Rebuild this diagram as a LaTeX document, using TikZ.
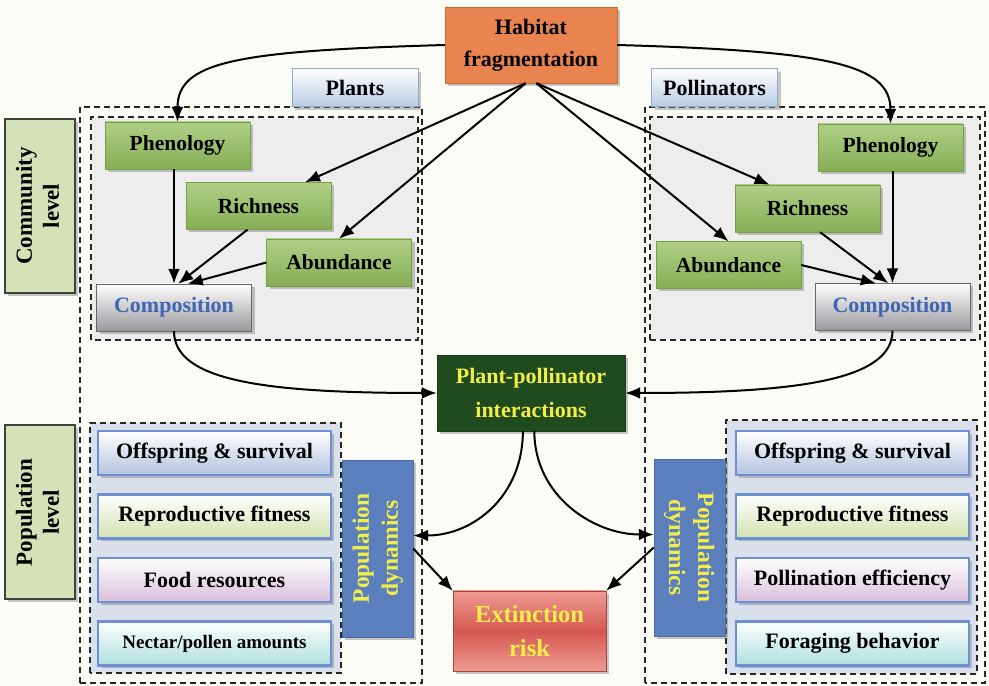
\documentclass[tikz,border=0pt]{standalone}
\usepackage{fontspec}
\setmainfont{Liberation Serif}
\usetikzlibrary{positioning,arrows.meta,shadows}
\definecolor{bgcream}{HTML}{FCFCF7}
\definecolor{habitatorange}{HTML}{E9834F}
\definecolor{habitatedge}{HTML}{C8682F}
\definecolor{leafgreen}{HTML}{86AE55}
\definecolor{leaflight}{HTML}{AFCF86}
\definecolor{leafedge}{HTML}{76A044}
\definecolor{compgray}{HTML}{9A989E}
\definecolor{compblue}{HTML}{3F66B2}
\definecolor{labelblue}{HTML}{B7CBE4}
\definecolor{labeledge}{HTML}{8EAAD2}
\definecolor{levelgreen}{HTML}{D5E2B8}
\definecolor{boxgray}{HTML}{EEEDED}
\definecolor{popgray}{HTML}{D9E0EC}
\definecolor{itemedge}{HTML}{6D8FD3}
\definecolor{itemblue}{HTML}{B3C2DF}
\definecolor{itemgreen}{HTML}{D3E2AE}
\definecolor{itempink}{HTML}{D9BEDA}
\definecolor{itemcyan}{HTML}{AEDFDF}
\definecolor{dynblue}{HTML}{5B7EBC}
\definecolor{dynedge}{HTML}{4A6AA6}
\definecolor{ppigreen}{HTML}{1F4B1F}
\definecolor{textyellow}{HTML}{F3EE4A}
\definecolor{riskred}{HTML}{D55852}
\definecolor{risklight}{HTML}{EE9C92}
\tikzset {
        recnode/.style={align=center, inner sep=2pt, rectangle, font=\fontsize{22}{26}\selectfont\bfseries},
        shadowed/.style={drop shadow={shadow xshift=3pt, shadow yshift=-3pt, fill=black!50, opacity=0.45}},
        groupbox/.style={draw=black!85, line width=1.6pt, dash pattern=on 6pt off 4pt},
        habitatbox/.style={recnode, shadowed, draw=habitatedge, fill=habitatorange, minimum width=172pt, minimum height=76pt, font=\fontsize{22}{32}\selectfont\bfseries},
        groupname/.style={recnode, shadowed, draw=labeledge, line width=1pt, top color=white, bottom color=labelblue, minimum width=126pt, minimum height=38pt},
        levelbox/.style={recnode, shadowed, draw=black!75, line width=2pt, fill=levelgreen, minimum width=70pt, minimum height=174pt, font=\fontsize{23}{27}\selectfont\bfseries},
        greenbox/.style={recnode, shadowed, draw=leafedge, top color=leaflight, bottom color=leafgreen, minimum width=145pt, minimum height=47pt, font=\fontsize{21.5}{25}\selectfont\bfseries},
        compbox/.style={recnode, shadowed, draw=black!60, top color=white, bottom color=compgray, text=compblue, minimum width=155pt, minimum height=47pt},
        ppibox/.style={recnode, shadowed, draw=ppigreen!80!black, fill=ppigreen, text=textyellow, minimum width=188pt, minimum height=76pt, font=\fontsize{22}{34}\selectfont\bfseries},
        riskbox/.style={recnode, shadowed, draw=riskred!80!black, top color=risklight, bottom color=risklight, middle color=riskred, text=textyellow, minimum width=153pt, minimum height=80pt, font=\fontsize{24.5}{34}\selectfont\bfseries},
        itembox/.style={recnode, shadowed, draw=itemedge, line width=2.5pt, top color=white, minimum width=233pt, minimum height=44pt},
        dynbox/.style={recnode, shadowed, draw=dynedge, fill=dynblue, text=textyellow, minimum width=71pt, minimum height=177pt, font=\fontsize{23.5}{29}\selectfont\bfseries},
        flow/.style={->, line width=2pt}
}
\begin{document}
\begin{tikzpicture}[x=1pt, y=1pt, >={Latex[length=15pt,width=12pt]}]
    \useasboundingbox[fill=bgcream] (0,0) rectangle (989,686);

    \draw[groupbox] (80,3) rectangle (422,579);
    \draw[groupbox, fill=boxgray] (91,346) rectangle (418,569);
    \draw[groupbox, fill=popgray] (90,13) rectangle (341,263);
    \draw[groupbox] (645,3) rectangle (985,579);
    \draw[groupbox, fill=boxgray] (650,346) rectangle (980,569);
    \draw[groupbox, fill=popgray] (726,12) rectangle (977,266);

    \node[habitatbox] (HabitatFrag) at (531,641) {Habitat\\fragmentation};
    \node[groupname] (Plants) at (355,598) {Plants};
    \node[groupname] (Pollinators) at (714.5,598) {Pollinators};

    \node[levelbox] (CommunityLevel) at (40,480) {\rotatebox{90}{\begin{tabular}{@{}c@{}}Community\\level\end{tabular}}};
    \node[levelbox] (PopulationLevel) at (40,173.5) {\rotatebox{90}{\begin{tabular}{@{}c@{}}Population\\level\end{tabular}}};

    \node[greenbox] (PhenologyL) at (177.5,540.5) {Phenology};
    \node[greenbox] (RichnessL) at (258.5,480) {Richness};
    \node[greenbox] (AbundanceL) at (339,423.5) {Abundance};
    \node[compbox] (CompositionL) at (174,378.5) {Composition};

    \node[greenbox] (PhenologyR) at (890.5,538.5) {Phenology};
    \node[greenbox] (RichnessR) at (807.5,477.5) {Richness};
    \node[greenbox] (AbundanceR) at (728.5,421) {Abundance};
    \node[compbox] (CompositionR) at (892.5,379) {Composition};

    \node[ppibox] (Interactions) at (531,293) {Plant-pollinator\\interactions};
    \node[riskbox] (ExtinctionRisk) at (529.5,55) {Extinction\\risk};

    \node[itembox, bottom color=itemblue] (OffspringL) at (214.5,233) {Offspring \& survival};
    \node[itembox, bottom color=itemgreen, below=17pt of OffspringL] (FitnessL) {Reproductive fitness};
    \node[itembox, bottom color=itempink, below=17pt of FitnessL] (FoodL) {Food resources};
    \node[itembox, bottom color=itemcyan, below=17pt of FoodL, font=\fontsize{19}{22}\selectfont\bfseries] (NectarL) {Nectar/pollen amounts};
    \node[dynbox] (DynamicsL) at (377.5,137.5) {\rotatebox{90}{\begin{tabular}{@{}c@{}}Population\\dynamics\end{tabular}}};

    \node[itembox, bottom color=itemblue] (OffspringR) at (852.5,233) {Offspring \& survival};
    \node[itembox, bottom color=itemgreen, below=17pt of OffspringR] (FitnessR) {Reproductive fitness};
    \node[itembox, bottom color=itempink, below=17pt of FitnessR] (EfficiencyR) {Pollination efficiency};
    \node[itembox, bottom color=itemcyan, below=17pt of EfficiencyR] (ForagingR) {Foraging behavior};
    \node[dynbox] (DynamicsR) at (689.5,138.5) {\rotatebox{-90}{\begin{tabular}{@{}c@{}}Population\\dynamics\end{tabular}}};

    \draw[flow] (HabitatFrag.west) .. controls +(-210,-6) and +(0,60) .. (PhenologyL.north);
    \draw[flow] (HabitatFrag.east) .. controls +(210,-6) and +(0,60) .. (PhenologyR.north);
    \draw[flow] (HabitatFrag.262) -- (RichnessL.27);
    \draw[flow] (HabitatFrag.262) -- (AbundanceL.north);
    \draw[flow] (HabitatFrag.278) -- (RichnessR.148);
    \draw[flow] (HabitatFrag.278) -- (AbundanceR.north);

    \draw[flow] (PhenologyL.south -| CompositionL.north) -- (CompositionL.north);
    \draw[flow] (RichnessL.245) -- (CompositionL.80);
    \draw[flow] (AbundanceL.west) -- (CompositionL.60);
    \draw[flow] (PhenologyR.south -| CompositionR.north) -- (CompositionR.north);
    \draw[flow] (RichnessR.298) -- (CompositionR.100);
    \draw[flow] (AbundanceR.east) -- (CompositionR.125);

    \draw[flow] (CompositionL.south) .. controls +(0,-50) and +(-170,0) .. (Interactions.west);
    \draw[flow] (CompositionR.south) .. controls +(0,-50) and +(170,0) .. (Interactions.east);
    \draw[flow] (Interactions.258) .. controls +(0,-65) and +(60,0) .. (DynamicsL.20);
    \draw[flow] (Interactions.275) .. controls +(0,-65) and +(-60,0) .. (DynamicsR.160);
    \draw[flow] (DynamicsL.east) -- (ExtinctionRisk.north west);
    \draw[flow] (DynamicsR.west) -- (ExtinctionRisk.north east);
\end{tikzpicture}
\end{document}
